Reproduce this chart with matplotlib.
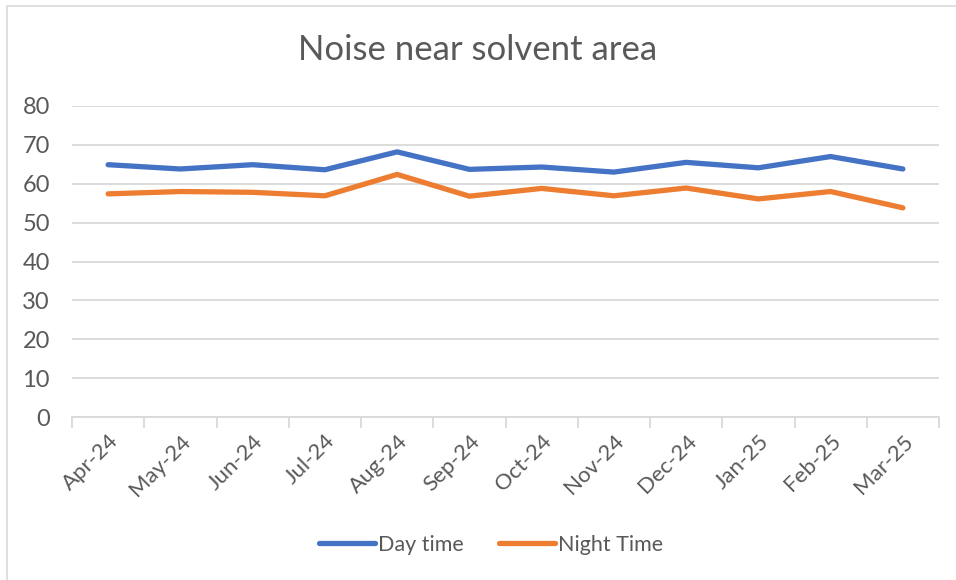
import matplotlib
matplotlib.use("Agg")
import matplotlib.pyplot as plt
from matplotlib.lines import Line2D
from matplotlib.patches import Rectangle

months = ["Apr-24", "May-24", "Jun-24", "Jul-24", "Aug-24", "Sep-24",
          "Oct-24", "Nov-24", "Dec-24", "Jan-25", "Feb-25", "Mar-25"]
day_time = [64.9, 63.8, 64.9, 63.6, 68.2, 63.7, 64.3, 63.0, 65.5, 64.1, 67.0, 63.8]
night_time = [57.4, 58.0, 57.8, 56.9, 62.4, 56.8, 58.8, 56.9, 58.9, 56.1, 58.0, 53.8]
y_ticks = [0, 10, 20, 30, 40, 50, 60, 70, 80]

TEXT = "#595959"
GRID = "#D9D9D9"
BLUE = "#4472C4"
ORANGE = "#ED7D31"

plt.rcParams["font.family"] = ["Lato", "DejaVu Sans"]

W, H = 956, 580
fig = plt.figure(figsize=(W / 100, H / 100), dpi=100)

# chart frame
fig.patches.append(Rectangle((7 / W, -0.1), 1.2, 1 - 6 / H + 0.1,
                             transform=fig.transFigure, fill=False,
                             edgecolor=GRID, linewidth=1.2))

ax = fig.add_axes([72 / W, 1 - 417 / H, (939 - 72) / W, (417 - 106) / H])
x = list(range(len(months)))
ax.plot(x, day_time, color=BLUE, lw=3.8, solid_capstyle="round",
        solid_joinstyle="round", label="Day time", zorder=3)
ax.plot(x, night_time, color=ORANGE, lw=3.8, solid_capstyle="round",
        solid_joinstyle="round", label="Night Time", zorder=3)

ax.set_xlim(-0.5, len(months) - 0.5)
ax.set_ylim(0, 80)
ax.set_yticks(y_ticks)
ax.set_yticklabels([str(v) for v in y_ticks], fontsize=17, color=TEXT)
ax.tick_params(axis="y", length=0, pad=16)
ax.grid(axis="y", color=GRID, linewidth=1.3, zorder=0)

ax.set_xticks([i - 0.5 for i in range(len(months) + 1)], minor=False)
ax.set_xticklabels([])
ax.tick_params(axis="x", which="major", length=8, color=GRID, width=1.3)
ax.set_xticks(x, minor=True)
ax.set_xticklabels(months, minor=True, rotation=45, ha="right",
                   rotation_mode="anchor", fontsize=16, color=TEXT)
ax.tick_params(axis="x", which="minor", length=0, pad=10)

for s in ["top", "right", "left"]:
    ax.spines[s].set_visible(False)
ax.spines["bottom"].set_color(GRID)
ax.spines["bottom"].set_linewidth(1.3)

fig.text(0.5, 1 - 50 / H, "Noise near solvent area", ha="center", va="center",
         fontsize=25, color=TEXT)

handles = [Line2D([], [], color=BLUE, lw=3.8, solid_capstyle="round"),
           Line2D([], [], color=ORANGE, lw=3.8, solid_capstyle="round")]
fig.legend(handles, ["Day time", "Night Time"], loc="center",
           bbox_to_anchor=(0.5 + 13 / W, 1 - 545 / H), ncol=2, frameon=False,
           fontsize=15.5, labelcolor=TEXT, handlelength=2.6,
           handletextpad=0.15, columnspacing=1.6)

fig.savefig("out.png", dpi=100)
